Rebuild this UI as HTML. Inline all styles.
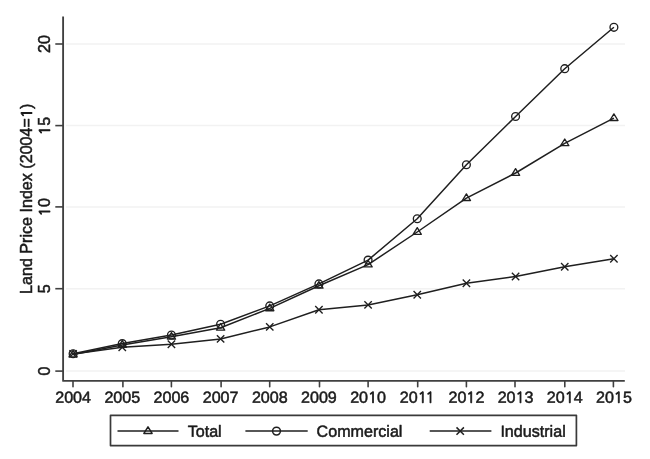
<!DOCTYPE html>
<html lang="en"><head><meta charset="utf-8"><title>Land Price Index</title>
<style>html,body{margin:0;padding:0;background:#fff}svg{display:block}</style></head>
<body>
<svg width="650" height="459" viewBox="0 0 650 459" font-family="'Liberation Sans', Arial, Helvetica, sans-serif" font-size="16.1" fill="#1a1a1a">
<defs><filter id="soft" x="-5" y="-5" width="660" height="469" filterUnits="userSpaceOnUse" color-interpolation-filters="sRGB"><feGaussianBlur stdDeviation="0.62"/></filter></defs>
<g filter="url(#soft)">
<rect x="-5" y="-5" width="660" height="469" fill="#fff"/>
<line x1="66" x2="625" y1="371.1" y2="371.1" stroke="#f2f2f2" stroke-width="1.5"/>
<line x1="66" x2="625" y1="288.7" y2="288.7" stroke="#f2f2f2" stroke-width="1.5"/>
<line x1="66" x2="625" y1="206.9" y2="206.9" stroke="#f2f2f2" stroke-width="1.5"/>
<line x1="66" x2="625" y1="125.6" y2="125.6" stroke="#f2f2f2" stroke-width="1.5"/>
<line x1="66" x2="625" y1="44.0" y2="44.0" stroke="#f2f2f2" stroke-width="1.5"/>
<g stroke="#404040" stroke-width="1.6" fill="none" stroke-linejoin="round">
<path d="M63.1 16.6 V380.9 H624.8" stroke-width="1.85"/>
<line x1="55.3" x2="63" y1="371.1" y2="371.1"/>
<line x1="55.3" x2="63" y1="288.7" y2="288.7"/>
<line x1="55.3" x2="63" y1="206.9" y2="206.9"/>
<line x1="55.3" x2="63" y1="125.6" y2="125.6"/>
<line x1="55.3" x2="63" y1="44.0" y2="44.0"/>
<line x1="73.0" x2="73.0" y1="380.9" y2="386.7" stroke-linecap="round"/>
<line x1="122.9" x2="122.9" y1="380.9" y2="386.7" stroke-linecap="round"/>
<line x1="171.4" x2="171.4" y1="380.9" y2="386.7" stroke-linecap="round"/>
<line x1="221.1" x2="221.1" y1="380.9" y2="386.7" stroke-linecap="round"/>
<line x1="269.7" x2="269.7" y1="380.9" y2="386.7" stroke-linecap="round"/>
<line x1="319.5" x2="319.5" y1="380.9" y2="386.7" stroke-linecap="round"/>
<line x1="368.1" x2="368.1" y1="380.9" y2="386.7" stroke-linecap="round"/>
<line x1="417.7" x2="417.7" y1="380.9" y2="386.7" stroke-linecap="round"/>
<line x1="466.4" x2="466.4" y1="380.9" y2="386.7" stroke-linecap="round"/>
<line x1="515.0" x2="515.0" y1="380.9" y2="386.7" stroke-linecap="round"/>
<line x1="564.8" x2="564.8" y1="380.9" y2="386.7" stroke-linecap="round"/>
<line x1="613.4" x2="613.4" y1="380.9" y2="386.7" stroke-linecap="round"/>
</g>
<g stroke="#1a1a1a" stroke-width="0.5" stroke-linejoin="round">
<text transform="translate(50.2,371.1) rotate(-90)" text-anchor="middle">0</text>
<text transform="translate(50.2,288.7) rotate(-90)" text-anchor="middle">5</text>
<text transform="translate(50.2,206.9) rotate(-90)" text-anchor="middle"><tspan font-family="NanumGothic, 'Liberation Sans', sans-serif" font-size="14.97" stroke-width="0.8" dx="-0.4">1</tspan><tspan dx="0.4">0</tspan></text>
<text transform="translate(50.2,125.6) rotate(-90)" text-anchor="middle"><tspan font-family="NanumGothic, 'Liberation Sans', sans-serif" font-size="14.97" stroke-width="0.8" dx="-0.4">1</tspan><tspan dx="0.4">5</tspan></text>
<text transform="translate(50.2,44.0) rotate(-90)" text-anchor="middle">20</text>
<text transform="translate(73.1,402.8) rotate(0.03)" text-anchor="middle">2004</text>
<text transform="translate(122.3,402.8) rotate(0.03)" text-anchor="middle">2005</text>
<text transform="translate(171.4,402.8) rotate(0.03)" text-anchor="middle">2006</text>
<text transform="translate(220.6,402.8) rotate(0.03)" text-anchor="middle">2007</text>
<text transform="translate(269.8,402.8) rotate(0.03)" text-anchor="middle">2008</text>
<text transform="translate(318.9,402.8) rotate(0.03)" text-anchor="middle">2009</text>
<text transform="translate(368.1,402.8) rotate(0.03)" text-anchor="middle">20<tspan font-family="NanumGothic, 'Liberation Sans', sans-serif" font-size="14.97" stroke-width="0.8">1</tspan>0</text>
<text transform="translate(417.2,402.8) rotate(0.03)" text-anchor="middle">20<tspan font-family="NanumGothic, 'Liberation Sans', sans-serif" font-size="14.97" stroke-width="0.8" dx="0 -1.3">11</tspan></text>
<text transform="translate(466.4,402.8) rotate(0.03)" text-anchor="middle">20<tspan font-family="NanumGothic, 'Liberation Sans', sans-serif" font-size="14.97" stroke-width="0.8">1</tspan>2</text>
<text transform="translate(515.6,402.8) rotate(0.03)" text-anchor="middle">20<tspan font-family="NanumGothic, 'Liberation Sans', sans-serif" font-size="14.97" stroke-width="0.8">1</tspan>3</text>
<text transform="translate(564.7,402.8) rotate(0.03)" text-anchor="middle">20<tspan font-family="NanumGothic, 'Liberation Sans', sans-serif" font-size="14.97" stroke-width="0.8">1</tspan>4</text>
<text transform="translate(613.9,402.8) rotate(0.03)" text-anchor="middle">20<tspan font-family="NanumGothic, 'Liberation Sans', sans-serif" font-size="14.97" stroke-width="0.8">1</tspan>5</text>
<text transform="translate(32.2,198.8) rotate(-90)" text-anchor="middle" font-size="16.1">Land Price Index (2004=<tspan font-family="NanumGothic, 'Liberation Sans', sans-serif" font-size="14.97" stroke-width="0.8">1</tspan>)</text>
</g>
<g stroke="#1f1f1f" stroke-width="1.5" fill="none" stroke-linejoin="round">
<polyline points="73.1,354.6 122.3,344.9 171.4,336.8 220.6,327.8 269.8,308.4 318.9,285.8 368.1,264.6 417.2,232.0 466.4,198.2 515.6,173.0 564.7,143.3 613.9,118.2"/>
<polyline points="73.1,353.7 122.3,343.6 171.4,335.0 220.6,324.3 269.8,305.9 318.9,283.9 368.1,260.1 417.2,218.7 466.4,164.7 515.6,116.5 564.7,68.7 613.9,27.3"/>
<polyline points="73.1,353.9 122.3,347.2 171.4,344.2 220.6,338.9 269.8,326.9 318.9,309.7 368.1,304.9 417.2,294.8 466.4,283.3 515.6,276.5 564.7,266.7 613.9,258.7"/>
<g stroke-width="1.35">
<path d="M73.10 350.30 L77.20 356.90 L69.00 356.90 Z"/>
<circle cx="73.10" cy="353.70" r="3.90"/>
<path d="M69.40 350.20 L76.80 357.60 M69.40 357.60 L76.80 350.20"/>
<path d="M122.26 340.59 L126.36 347.20 L118.16 347.20 Z"/>
<circle cx="122.26" cy="343.60" r="3.90"/>
<path d="M118.56 343.50 L125.96 350.90 M118.56 350.90 L125.96 343.50"/>
<path d="M171.43 332.50 L175.53 339.10 L167.33 339.10 Z"/>
<circle cx="171.43" cy="335.00" r="3.90"/>
<path d="M167.73 340.50 L175.13 347.90 M167.73 347.90 L175.13 340.50"/>
<path d="M220.59 323.50 L224.69 330.10 L216.49 330.10 Z"/>
<circle cx="220.59" cy="324.30" r="3.90"/>
<path d="M216.89 335.20 L224.29 342.60 M216.89 342.60 L224.29 335.20"/>
<path d="M269.75 304.09 L273.85 310.70 L265.65 310.70 Z"/>
<circle cx="269.75" cy="305.90" r="3.90"/>
<path d="M266.05 323.20 L273.45 330.60 M266.05 330.60 L273.45 323.20"/>
<path d="M318.92 281.50 L323.02 288.10 L314.82 288.10 Z"/>
<circle cx="318.92" cy="283.90" r="3.90"/>
<path d="M315.22 306.00 L322.62 313.40 M315.22 313.40 L322.62 306.00"/>
<path d="M368.08 260.30 L372.18 266.90 L363.98 266.90 Z"/>
<circle cx="368.08" cy="260.10" r="3.90"/>
<path d="M364.38 301.20 L371.78 308.60 M364.38 308.60 L371.78 301.20"/>
<path d="M417.25 227.69 L421.35 234.30 L413.15 234.30 Z"/>
<circle cx="417.25" cy="218.70" r="3.90"/>
<path d="M413.55 291.10 L420.95 298.50 M413.55 298.50 L420.95 291.10"/>
<path d="M466.41 193.89 L470.51 200.50 L462.31 200.50 Z"/>
<circle cx="466.41" cy="164.70" r="3.90"/>
<path d="M462.71 279.60 L470.11 287.00 M462.71 287.00 L470.11 279.60"/>
<path d="M515.57 168.69 L519.67 175.30 L511.47 175.30 Z"/>
<circle cx="515.57" cy="116.50" r="3.90"/>
<path d="M511.87 272.80 L519.27 280.20 M511.87 280.20 L519.27 272.80"/>
<path d="M564.74 139.00 L568.84 145.60 L560.64 145.60 Z"/>
<circle cx="564.74" cy="68.70" r="3.90"/>
<path d="M561.04 263.00 L568.44 270.40 M561.04 270.40 L568.44 263.00"/>
<path d="M613.90 113.90 L618.00 120.50 L609.80 120.50 Z"/>
<circle cx="613.90" cy="27.30" r="3.90"/>
<path d="M610.20 255.00 L617.60 262.40 M610.20 262.40 L617.60 255.00"/>
</g>
<rect x="110.5" y="415.3" width="465.9" height="30.3" stroke="#3a3a3a" stroke-width="1.7"/>
<line x1="117.5" x2="178.5" y1="431.1" y2="431.1"/>
<path d="M148.00 426.80 L152.10 433.40 L143.90 433.40 Z"/>
<line x1="245.4" x2="307.7" y1="431.1" y2="431.1"/>
<circle cx="276.50" cy="431.10" r="3.90"/>
<line x1="429.7" x2="491.4" y1="431.1" y2="431.1"/>
<path d="M456.50 427.40 L463.90 434.80 M456.50 434.80 L463.90 427.40"/>
</g>
<g font-size="16.1" stroke="#1a1a1a" stroke-width="0.5" stroke-linejoin="round">
<text transform="translate(187.7,436.8) rotate(0.03)">Total</text>
<text transform="translate(316.6,436.8) rotate(0.03)">Commercial</text>
<text transform="translate(500.4,436.8) rotate(0.03)">Industrial</text>
</g>
</g>
</svg>
</body></html>
